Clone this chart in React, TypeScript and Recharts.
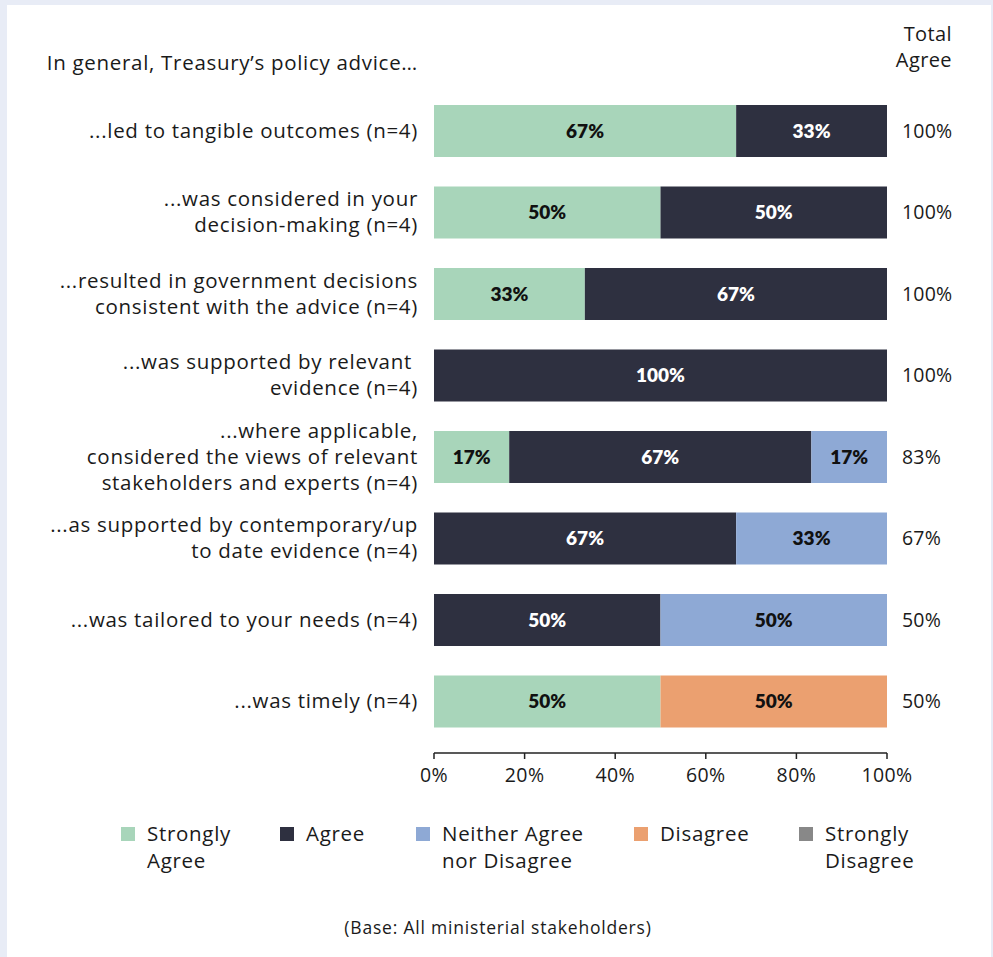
import React from "react";
import { BarChart, Bar, XAxis, YAxis, LabelList } from "recharts";

document.body.style.margin = "0";

const categories = [
  ["...led to tangible outcomes (n=4)"],
  ["...was considered in your", "decision-making (n=4)"],
  ["...resulted in government decisions", "consistent with the advice (n=4)"],
  ["...was supported by relevant ", "evidence (n=4)"],
  ["...where applicable,", "considered the views of relevant", "stakeholders and experts (n=4)"],
  ["...as supported by contemporary/up", "to date evidence (n=4)"],
  ["...was tailored to your needs (n=4)"],
  ["...was timely (n=4)"],
];

const stronglyAgree = [66.7, 50, 33.3, 0, 16.6, 0, 0, 50];
const agree = [33.3, 50, 66.7, 100, 66.7, 66.7, 50, 0];
const neither = [0, 0, 0, 0, 16.7, 33.3, 50, 0];
const disagree = [0, 0, 0, 0, 0, 0, 0, 50];
const stronglyDisagree = [0, 0, 0, 0, 0, 0, 0, 0];
const totalAgree = [100, 100, 100, 100, 83, 67, 50, 50];
const xTicks = [0, 20, 40, 60, 80, 100];

const series = [
  { key: "sa", name: ["Strongly", "Agree"], color: "#A8D5BA", text: "#111" },
  { key: "a", name: ["Agree"], color: "#2E3040", text: "#fff" },
  { key: "n", name: ["Neither Agree", "nor Disagree"], color: "#8EA9D5", text: "#111" },
  { key: "d", name: ["Disagree"], color: "#EBA070", text: "#111" },
  { key: "sd", name: ["Strongly", "Disagree"], color: "#888888", text: "#fff" },
];

const data = categories.map((lines, i) => ({
  name: lines.join(" "),
  idx: i,
  sa: stronglyAgree[i],
  a: agree[i],
  n: neither[i],
  d: disagree[i],
  sd: stronglyDisagree[i],
}));

const FONT = "'Open Sans', 'Noto Sans', sans-serif";
const BOLD_FONT = "Lato, 'Noto Sans', sans-serif";
const INK = "#1a1a1a";
const LS = 0.7;

const LeftTick = (props: any) => {
  const { x, y, payload } = props;
  const lines = categories[payload.index] || [payload.value];
  const lh = 26;
  const start = y - ((lines.length - 1) * lh) / 2;
  return (
    <text
      x={x}
      y={start}
      textAnchor="end"
      fill={INK}
      fontSize={20.5}
      fontFamily={FONT}
      letterSpacing={LS}
      style={{ whiteSpace: "pre" }}
    >
      {lines.map((l: string, k: number) => (
        <tspan key={k} x={x} y={start + k * lh} dy="0.35em">
          {l}
        </tspan>
      ))}
    </text>
  );
};

const RightTick = (props: any) => {
  const { x, y, payload } = props;
  return (
    <text x={x} y={y} dy="0.35em" textAnchor="start" fill={INK} fontSize={19.5} fontFamily={FONT} letterSpacing={0.2}>
      {`${totalAgree[payload.index]}%`}
    </text>
  );
};

const makeLabel = (color: string) => (props: any) => {
  const { x, y, width, height, value } = props;
  if (!value) return null;
  return (
    <text
      x={x + width / 2}
      y={y + height / 2}
      dy="0.35em"
      textAnchor="middle"
      fill={color}
      fontSize={19}
      fontWeight={800}
      fontFamily={BOLD_FONT}
    >
      {`${Math.round(value)}%`}
    </text>
  );
};

export default function App() {
  return (
    <div style={{ position: "relative", width: 993, height: 957, background: "#E8ECF6", fontFamily: FONT, color: INK }}>
      <div style={{ position: "absolute", left: 7, top: 5, width: 984, height: 952, background: "#fff" }} />
      <div style={{ position: "absolute", left: 0, top: 0 }}>
        <BarChart
          width={993}
          height={957}
          data={data}
          layout="vertical"
          margin={{ top: 90, right: 0, bottom: 164, left: 0 }}
          barSize={52}
        >
          <XAxis
            type="number"
            domain={[0, 100]}
            ticks={xTicks}
            tickFormatter={(v) => `${v}%`}
            axisLine={{ stroke: "#222", strokeWidth: 1.5 }}
            tickLine={{ stroke: "#222", strokeWidth: 1.5 }}
            tickSize={6}
            tickMargin={9}
            height={40}
            interval={0}
            tick={{ fill: INK, fontSize: 19.5, fontFamily: FONT, letterSpacing: 0.4 }}
          />
          <YAxis
            yAxisId="left"
            type="category"
            dataKey="name"
            width={434}
            axisLine={false}
            tickLine={false}
            tickSize={0}
            tickMargin={16}
            interval={0}
            padding={{ top: 0, bottom: 11 }}
            tick={<LeftTick />}
          />
          <YAxis
            yAxisId="right"
            orientation="right"
            type="category"
            dataKey="name"
            width={106}
            axisLine={false}
            tickLine={false}
            tickSize={0}
            tickMargin={15}
            interval={0}
            padding={{ top: 0, bottom: 11 }}
            tick={<RightTick />}
          />
          {series.map((s) => (
            <Bar key={s.key} yAxisId="left" dataKey={s.key} stackId="s" fill={s.color} isAnimationActive={false}>
              <LabelList dataKey={s.key} content={makeLabel(s.text)} />
            </Bar>
          ))}
        </BarChart>
      </div>

      <div
        style={{
          position: "absolute",
          right: 993 - 418,
          top: 48,
          fontSize: 20.5,
          letterSpacing: LS,
          whiteSpace: "nowrap",
        }}
      >
        In general, Treasury’s policy advice…
      </div>
      <div
        style={{
          position: "absolute",
          right: 993 - 952,
          top: 21,
          fontSize: 20,
          lineHeight: "26px",
          textAlign: "right",
          letterSpacing: 0.4,
        }}
      >
        Total
        <br />
        Agree
      </div>

      {series.map((s, i) => {
        const lefts = [121, 280, 416, 634, 799];
        return (
          <div key={s.key} style={{ position: "absolute", left: lefts[i], top: 820, display: "flex", alignItems: "flex-start" }}>
            <div style={{ width: 14, height: 14, background: s.color, marginTop: 7, marginRight: 12 }} />
            <div style={{ fontSize: 20.5, lineHeight: "27px", letterSpacing: LS, whiteSpace: "nowrap" }}>
              {s.name.map((l, k) => (
                <div key={k}>{l}</div>
              ))}
            </div>
          </div>
        );
      })}

      <div
        style={{
          position: "absolute",
          left: 0,
          width: 996,
          top: 915,
          textAlign: "center",
          fontSize: 17.5,
          letterSpacing: 0.8,
        }}
      >
        (Base: All ministerial stakeholders)
      </div>
    </div>
  );
}
